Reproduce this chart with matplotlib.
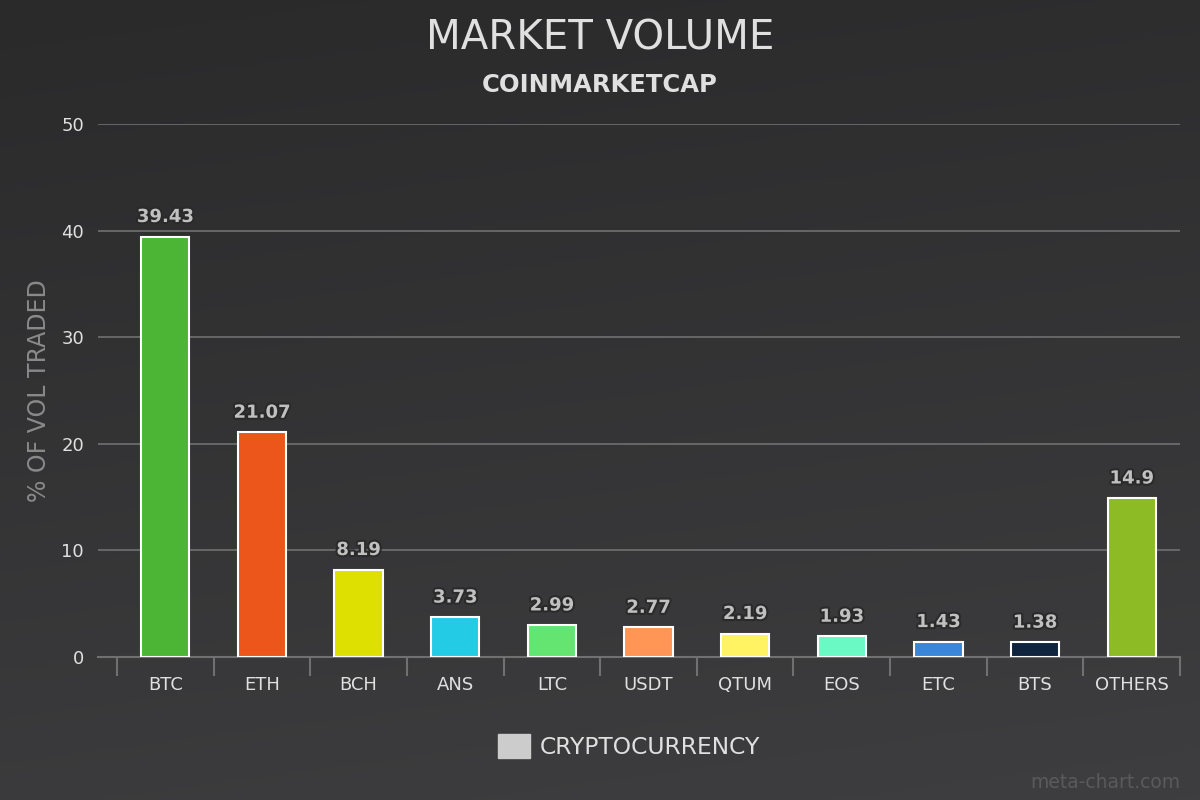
import numpy as np
import matplotlib
matplotlib.use("Agg")
import matplotlib.pyplot as plt
import matplotlib.patheffects as pe

coins = ["BTC", "ETH", "BCH", "ANS", "LTC", "USDT", "QTUM", "EOS", "ETC", "BTS", "OTHERS"]
volume = [39.43, 21.07, 8.19, 3.73, 2.99, 2.77, 2.19, 1.93, 1.43, 1.38, 14.9]
labels = ["39.43", "21.07", "8.19", "3.73", "2.99", "2.77", "2.19", "1.93", "1.43", "1.38", "14.9"]
colors = ["#4db535", "#ec561b", "#dde000", "#24cbe5", "#64e572", "#ff9655",
          "#fff263", "#6af9c4", "#3a87d9", "#10243e", "#8dbb25"]

plt.rcParams['font.family'] = ['DejaVu Sans']

fig = plt.figure(figsize=(12, 8), dpi=100)

# dark gradient background
bg = fig.add_axes([0, 0, 1, 1], zorder=-10)
grad = np.linspace(0, 1, 256).reshape(-1, 1)
xg = np.linspace(0, 1, 256).reshape(1, -1)
img = 0.6 * grad + 0.4 * xg * 0.3
bg.imshow(img, aspect='auto', cmap=matplotlib.colors.LinearSegmentedColormap.from_list(
    "bg", ["#2a2a2b", "#3e3e40"]), extent=[0, 1, 0, 1], origin='upper', vmin=0, vmax=0.72)
bg.axis('off')

ax = fig.add_axes([98/1200, 1 - 657/800, 1082/1200, 533/800])
ax.patch.set_alpha(0)

x = np.arange(len(coins))
bars = ax.bar(x, volume, width=0.5, color=colors, edgecolor="white", linewidth=1.5, zorder=3)

for xi, v, t in zip(x, volume, labels):
    ax.text(xi, v + 1.0, t, ha='center', va='bottom', fontsize=13, fontweight='bold',
            color="#c0c0c0", zorder=4,
            path_effects=[pe.withStroke(linewidth=3, foreground="#2a2a2a")])

step = 1063 / 11
ax.set_xlim(-0.5 - 19/step, 10.5)
ax.set_ylim(0, 50)
ax.set_yticks([0, 10, 20, 30, 40, 50])
ax.yaxis.grid(True, color="#707070", linewidth=1.2, zorder=0)
ax.tick_params(axis='y', length=0, pad=10, labelsize=13, labelcolor="#e0e0e0")

ax.set_xticks(x)
ax.set_xticklabels(coins)
ax.set_xticks(np.arange(-0.5, 11.0, 1.0), minor=True)
ax.tick_params(axis='x', which='major', length=0, pad=14, labelsize=13, labelcolor="#e0e0e0")
ax.tick_params(axis='x', which='minor', length=14, width=1.5, color="#707070", direction='out')

for s in ['top', 'right', 'left']:
    ax.spines[s].set_visible(False)
ax.spines['bottom'].set_color("#707070")
ax.spines['bottom'].set_linewidth(1.5)

ax.set_ylabel("% OF VOL TRADED", fontsize=17, color="#8a8a8a")
ax.yaxis.set_label_coords(-47/1082, 0.5)

fig.text(0.5, 1 - 38/800, "MARKET VOLUME", ha='center', va='center', fontsize=29, color="#e0e0e0")
fig.text(0.5, 1 - 85/800, "COINMARKETCAP", ha='center', va='center', fontsize=17.5,
         fontweight='bold', color="#e0e0e0")

# legend
fig.patches.append(matplotlib.patches.Rectangle((498/1200, 1 - 758/800), 32/1200, 24/800,
                                                transform=fig.transFigure, color="#cccccc"))
fig.text(540/1200, 1 - 747/800, "CRYPTOCURRENCY", ha='left', va='center', fontsize=16.8, color="#e0e0e0")

fig.text(1180/1200, 1 - 783/800, "meta-chart.com", ha='right', va='center', fontsize=13.5, color="#5a5a5a")

fig.savefig("out.png", dpi=100)
